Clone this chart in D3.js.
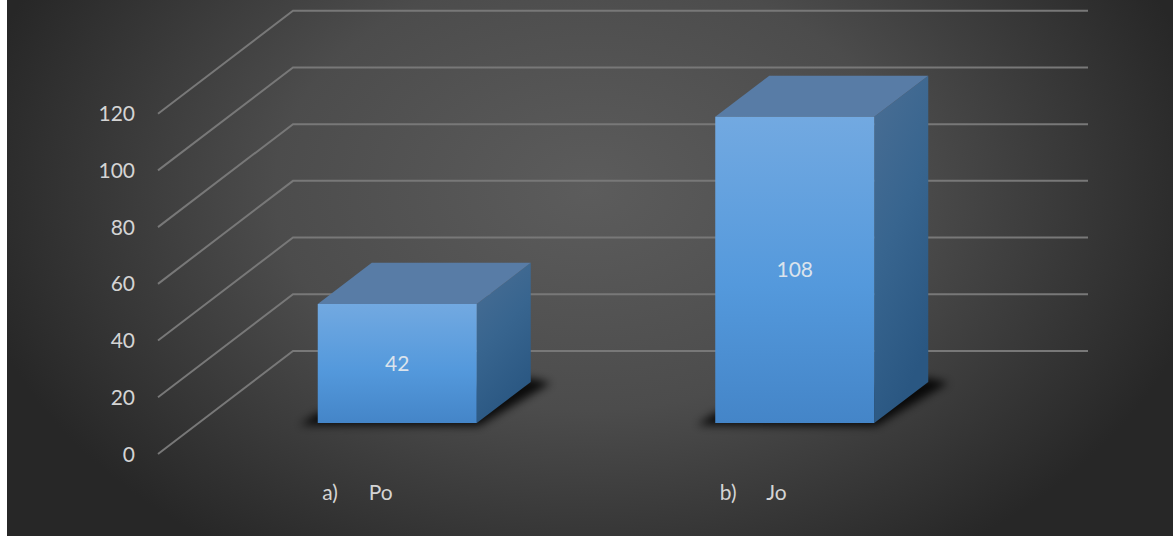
<!DOCTYPE html>
<html><head><meta charset="utf-8">
<script src="https://cdn.jsdelivr.net/npm/d3@7"></script>
<style>html,body{margin:0;padding:0;background:#fff;overflow:hidden}svg{display:block}text{font-family:Lato,"Noto Sans",sans-serif}</style>
</head><body><div id="chart"></div>
<script>
const categories = ["a)", "b)"];
const names = ["Po", "Jo"];
const values = [42, 108];
const yTicks = [0, 20, 40, 60, 80, 100, 120];

const W = 1173, H = 536;
const depthX = 135, depthY = 103;
const svg = d3.select("#chart").append("svg").attr("width", W).attr("height", H);
const defs = svg.append("defs");

const bg = defs.append("radialGradient").attr("id","bg").attr("gradientUnits","userSpaceOnUse")
  .attr("cx",0).attr("cy",0).attr("r",1).attr("gradientTransform","translate(590,190) scale(630,440)");
[[0,"#5c5c5c"],[0.5,"#4c4c4c"],[1,"#272727"]].forEach(s=>bg.append("stop").attr("offset",s[0]).attr("stop-color",s[1]));
const fg = defs.append("linearGradient").attr("id","front").attr("x1",0).attr("y1",0).attr("x2",0).attr("y2",1);
[[0,"#72a9e1"],[0.55,"#5499dc"],[1,"#4485c8"]].forEach(s=>fg.append("stop").attr("offset",s[0]).attr("stop-color",s[1]));
const sg = defs.append("linearGradient").attr("id","side").attr("x1",0).attr("y1",0).attr("x2",0.35).attr("y2",1);
[[0,"#4a6e94"],[0.5,"#38658f"],[1,"#2a5782"]].forEach(s=>sg.append("stop").attr("offset",s[0]).attr("stop-color",s[1]));
defs.append("filter").attr("id","blur").attr("x","-20%").attr("y","-40%").attr("width","140%").attr("height","180%")
  .append("feGaussianBlur").attr("stdDeviation",4);

svg.append("rect").attr("x",7).attr("y",0).attr("width",W-7).attr("height",H).attr("fill","url(#bg)");

const x = d3.scaleBand().domain(categories).range([158,953]).paddingInner(0.6).paddingOuter(0.3);
const y = d3.scaleLinear().domain([0,120]).range([454,113.7]);
const zFront = 0.3, zBack = 0.7;
const proj = (px, py, z) => [px + depthX*z, py - depthY*z];
const line = d3.line();

svg.append("g").selectAll("path").data(yTicks).join("path")
  .attr("d", t => line([proj(x.range()[0],y(t),0), proj(x.range()[0],y(t),1), proj(x.range()[1],y(t),1)]))
  .attr("fill","none").attr("stroke","#787878").attr("stroke-width",2);

svg.append("g").selectAll("text").data(yTicks).join("text")
  .attr("x",135).attr("y",t=>y(t)+7.5).attr("text-anchor","end")
  .attr("font-size",21).attr("fill","#d4d4d4").text(d=>d);

const bars = svg.append("g").selectAll("g").data(categories.map((c,i)=>({c,name:names[i],v:values[i]}))).join("g");
const pts = (d,arr)=>arr.map(a=>a.join(",")).join(" ");

bars.append("polygon").attr("fill","#000").attr("opacity",0.85).attr("filter","url(#blur)")
  .attr("points", d=>{
    const l=x(d.c), r=l+x.bandwidth(), b=y(0);
    const A=proj(l,b,zFront), B=proj(r,b,zFront), C=proj(r,b,zBack);
    return pts(d,[[A[0]-18,A[1]+2],[B[0]+2,B[1]+3],[C[0]+20,C[1]+1],[C[0],C[1]-4],[A[0],A[1]-10]]);
  });
bars.append("polygon").attr("fill","url(#side)")
  .attr("points", d=>{const r=x(d.c)+x.bandwidth(); return pts(d,[proj(r,y(0),zFront),proj(r,y(d.v),zFront),proj(r,y(d.v),zBack),proj(r,y(0),zBack)]);});
bars.append("polygon").attr("fill","#587ca6")
  .attr("points", d=>{const l=x(d.c), r=l+x.bandwidth(); return pts(d,[proj(l,y(d.v),zFront),proj(r,y(d.v),zFront),proj(r,y(d.v),zBack),proj(l,y(d.v),zBack)]);});
bars.append("polygon").attr("fill","url(#front)")
  .attr("points", d=>{const l=x(d.c), r=l+x.bandwidth(); return pts(d,[proj(l,y(d.v),zFront),proj(r,y(d.v),zFront),proj(r,y(0),zFront),proj(l,y(0),zFront)]);});
bars.append("text").attr("text-anchor","middle").attr("font-size",21).attr("fill","#dbe3ec")
  .attr("x",d=>proj(x(d.c)+x.bandwidth()/2,0,zFront)[0])
  .attr("y",d=>proj(0,y(d.v/2),zFront)[1]+7.5).text(d=>d.v);
bars.append("text").attr("font-size",21).attr("fill","#d4d4d4")
  .attr("x",d=>x(d.c)+x.bandwidth()/2-34.5).attr("y",500).text(d=>d.c);
bars.append("text").attr("font-size",21).attr("fill","#d4d4d4")
  .attr("x",d=>x(d.c)+x.bandwidth()/2+12).attr("y",500).text(d=>d.name);
</script></body></html>
